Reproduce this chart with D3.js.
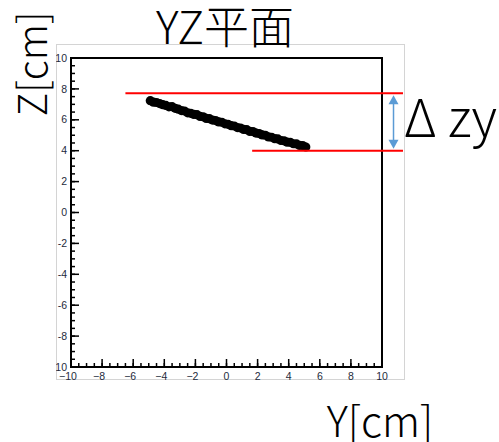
<!DOCTYPE html>
<html>
<head>
<meta charset="utf-8">
<script src="https://cdn.jsdelivr.net/npm/d3@7"></script>
<style>
  body { margin: 0; background: #fff; }
  svg { display: block; }
</style>
</head>
<body>
<div id="chart"></div>
<script>
// Y and Z of the track points (cm)
let trackY = [-4.9, -4.7, -4.5, -4.3, -4.1, -3.9, -3.7, -3.5, -3.3, -3.1,
              -2.9, -2.7, -2.5, -2.3, -2.1, -1.9, -1.7, -1.5, -1.3, -1.1,
              -0.9, -0.7, -0.5, -0.3, -0.1, 0.1, 0.3, 0.5, 0.7, 0.9,
              1.1, 1.3, 1.5, 1.7, 1.9, 2.1, 2.3, 2.5, 2.7, 2.9,
              3.1, 3.3, 3.5, 3.7, 3.9, 4.1, 4.3, 4.5, 4.7, 4.9, 5.1];
let trackZ = [7.24, 7.14, 7.12, 7.05, 6.98, 6.93, 6.84, 6.85, 6.74, 6.69,
              6.60, 6.57, 6.45, 6.42, 6.35, 6.33, 6.22, 6.19, 6.09, 6.07,
              5.98, 5.95, 5.86, 5.84, 5.74, 5.71, 5.62, 5.60, 5.50, 5.47,
              5.38, 5.36, 5.25, 5.24, 5.14, 5.11, 5.02, 5.00, 4.89, 4.87,
              4.78, 4.76, 4.66, 4.64, 4.55, 4.54, 4.45, 4.44, 4.34, 4.33, 4.24];

// marker lines for delta zy
let topLine = { y0: -6.5, y1: 11.35, z: 7.72 };
let bottomLine = { y0: 1.65, y1: 11.35, z: 4.0 };
let arrowY = 10.74;

let majorTicks = [-10, -8, -6, -4, -2, 0, 2, 4, 6, 8, 10];
let minorTicks = d3.range(-10, 10.01, 0.5);

let width = 499, height = 442;
let plot = { left: 71, right: 382, top: 58, bottom: 367 };

let svg = d3.select("#chart")
    .append("svg")
    .attr("width", width)
    .attr("height", height);

let jp = "'Noto Sans CJK JP', 'Noto Sans', sans-serif";

let x = d3.scaleLinear().domain([-10, 10]).range([plot.left, plot.right]);
let y = d3.scaleLinear().domain([-10, 10]).range([plot.bottom, plot.top]);

// inner panel, clipped to the pasted image area
svg.append("defs").append("clipPath")
    .attr("id", "panel")
    .append("rect")
    .attr("x", 56).attr("y", 44)
    .attr("width", 349).attr("height", 336);

let panel = svg.append("g").attr("clip-path", "url(#panel)");

panel.append("rect")
    .attr("x", 56.5).attr("y", 44.5)
    .attr("width", 348).attr("height", 335)
    .attr("fill", "#fff")
    .attr("stroke", "#d4d4d4");

// frame
panel.append("rect")
    .attr("x", plot.left).attr("y", plot.top)
    .attr("width", plot.right - plot.left)
    .attr("height", plot.bottom - plot.top)
    .attr("fill", "none")
    .attr("stroke", "#000")
    .attr("stroke-width", 2);

// ticks, pointing inward
let tickColor = "#000";
panel.selectAll(".xminor").data(minorTicks).enter().append("line")
    .attr("x1", d => x(d)).attr("x2", d => x(d))
    .attr("y1", plot.bottom).attr("y2", plot.bottom - 4)
    .attr("stroke", tickColor).attr("stroke-width", 1.5);
panel.selectAll(".xmajor").data(majorTicks).enter().append("line")
    .attr("x1", d => x(d)).attr("x2", d => x(d))
    .attr("y1", plot.bottom).attr("y2", plot.bottom - 8)
    .attr("stroke", tickColor).attr("stroke-width", 1.5);
panel.selectAll(".yminor").data(minorTicks).enter().append("line")
    .attr("y1", d => y(d)).attr("y2", d => y(d))
    .attr("x1", plot.left).attr("x2", plot.left + 4)
    .attr("stroke", tickColor).attr("stroke-width", 1.5);
panel.selectAll(".ymajor").data(majorTicks).enter().append("line")
    .attr("y1", d => y(d)).attr("y2", d => y(d))
    .attr("x1", plot.left).attr("x2", plot.left + 8)
    .attr("stroke", tickColor).attr("stroke-width", 1.5);

let fmt = d => (d < 0 ? "\u2212" : "") + Math.abs(d);
let labelColor = "#1e2b3c";

panel.selectAll(".xlab").data(majorTicks).enter().append("text")
    .attr("x", d => x(d) - (d < 0 ? 3 : 0))
    .attr("y", 379.5)
    .attr("text-anchor", "middle")
    .attr("font-family", "'Liberation Sans', Arial, sans-serif")
    .attr("font-size", 10.5)
    .attr("fill", labelColor)
    .text(fmt);

panel.selectAll(".ylab").data(majorTicks).enter().append("text")
    .attr("x", 67)
    .attr("y", d => y(d))
    .attr("dy", "0.35em")
    .attr("text-anchor", "end")
    .attr("font-family", "'Liberation Sans', Arial, sans-serif")
    .attr("font-size", 10.5)
    .attr("fill", labelColor)
    .text(d => d == -10 ? "\u221210" : d);

// track points
panel.selectAll(".dot")
    .data(trackY.map((d, i) => [d, trackZ[i]]))
    .enter().append("circle")
    .attr("cx", d => x(d[0]))
    .attr("cy", d => y(d[1]))
    .attr("r", 4.6)
    .attr("fill", "#000");

// red level lines
[topLine, bottomLine].forEach(function (l) {
    svg.append("line")
        .attr("x1", x(l.y0)).attr("x2", x(l.y1))
        .attr("y1", y(l.z)).attr("y2", y(l.z))
        .attr("stroke", "#ff0000")
        .attr("stroke-width", 2);
});

// blue double arrow
let blue = "#5b9bd5";
let ax = x(arrowY), ya = y(topLine.z) + 2, yb = y(bottomLine.z) - 2;
svg.append("line")
    .attr("x1", ax).attr("x2", ax)
    .attr("y1", ya + 6).attr("y2", yb - 6)
    .attr("stroke", blue).attr("stroke-width", 1.5);
svg.append("path")
    .attr("d", `M${ax},${ya} L${ax - 5},${ya + 9} L${ax + 5},${ya + 9} Z`)
    .attr("fill", blue);
svg.append("path")
    .attr("d", `M${ax},${yb} L${ax - 5},${yb - 9} L${ax + 5},${yb - 9} Z`)
    .attr("fill", blue);

// texts
svg.append("text")
    .attr("x", 225).attr("y", 44)
    .attr("text-anchor", "middle")
    .attr("font-family", jp).attr("font-weight", 300)
    .attr("font-size", 45)
    .text("YZ平面");

svg.append("text")
    .attr("transform", "translate(47,64) rotate(-90)")
    .attr("text-anchor", "middle")
    .attr("font-family", jp).attr("font-weight", 300)
    .attr("font-size", 40)
    .text("Z[cm]");

svg.append("text")
    .attr("x", 380).attr("y", 437)
    .attr("text-anchor", "middle")
    .attr("font-family", jp).attr("font-weight", 300)
    .attr("font-size", 42)
    .text("Y[cm]");

svg.append("text")
    .attr("x", 404).attr("y", 137)
    .attr("font-family", jp).attr("font-weight", 300)
    .attr("font-size", 52)
    .text("Δ zy");
</script>
</body>
</html>
